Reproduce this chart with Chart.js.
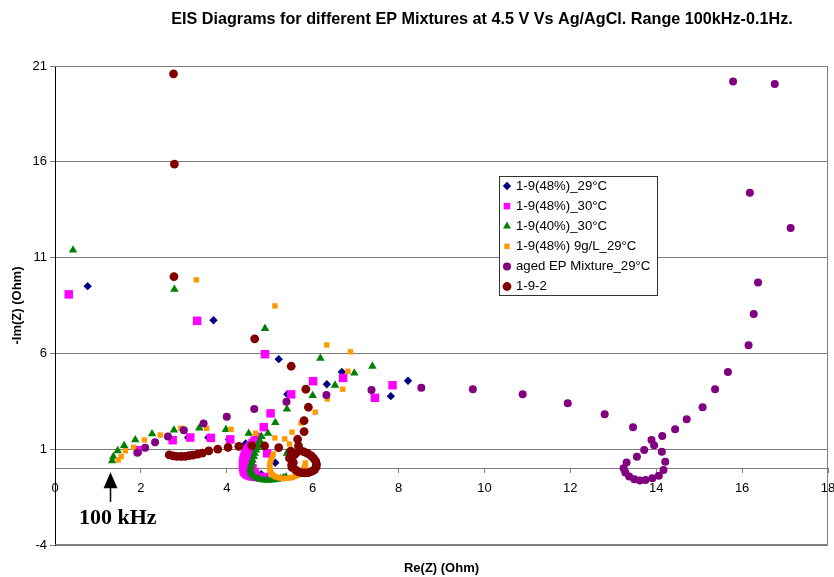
<!DOCTYPE html>
<html>
<head>
<meta charset="utf-8">
<script src="https://cdn.jsdelivr.net/npm/chart.js@4.4.0/dist/chart.umd.min.js"></script>
<style>
    html, body { margin: 0; padding: 0; background: #fff; overflow: hidden; }
    #wrap { width: 834px; height: 577px; }
</style>
</head>
<body>
<div id="wrap"><canvas id="eisChart" width="834" height="577"></canvas></div>
<script>
const xTicks = [0, 2, 4, 6, 8, 10, 12, 14, 16, 18];
const yTicks = [-4, 1, 6, 11, 16, 21];

const seriesLabels = [
    '1-9(48%)_29°C',
    '1-9(48%)_30°C',
    '1-9(40%)_30°C',
    '1-9(48%) 9g/L_29°C',
    'aged EP Mixture_29°C',
    '1-9-2'
];

// [Re(Z), -Im(Z)] pairs
const mix48at29 = [
    [0.76, 9.51], [3.69, 7.73], [5.21, 5.70], [6.68, 5.03], [8.22, 4.57], [6.33, 4.39],
    [7.82, 3.77], [5.41, 3.87], [3.10, 1.61], [3.57, 1.61], [4.05, 1.50], [4.44, 1.30],
    [4.62, 0.95], [4.55, 0.60], [4.52, 0.25], [4.55, -0.05], [4.65, -0.25], [4.80, -0.30],
    [5.13, 0.29]
];
const mix48at30 = [
    [0.32, 9.08], [3.31, 7.70], [4.89, 5.96], [6.01, 4.55], [6.71, 4.72], [7.86, 4.34],
    [7.45, 3.68], [5.50, 3.86], [5.02, 2.87], [4.86, 2.15], [4.71, 1.64], [4.08, 1.51],
    [3.63, 1.59], [3.15, 1.61], [2.74, 1.47], [1.93, 0.95], [4.65, 1.45], [4.60, 1.32],
    [4.55, 1.20], [4.51, 1.07], [4.47, 0.95], [4.44, 0.82], [4.42, 0.70], [4.40, 0.57],
    [4.39, 0.45], [4.38, 0.32], [4.38, 0.20], [4.38, 0.07], [4.39, -0.05], [4.40, -0.15],
    [4.42, -0.22], [4.45, -0.28], [4.48, -0.33], [4.52, -0.37], [4.56, -0.40], [4.61, -0.43],
    [4.66, -0.44], [4.71, -0.45], [4.77, -0.46], [4.83, -0.46], [4.88, -0.45], [4.94, 0.78],
    [4.47, 0.30], [4.50, 0.05], [4.52, 0.60], [4.56, 0.30], [4.60, 0.00], [4.65, -0.20],
    [4.55, 0.90]
];
const mix40at30 = [
    [0.42, 11.39], [2.78, 9.34], [4.89, 7.30], [6.18, 5.75], [7.39, 5.33], [6.97, 4.97],
    [6.52, 4.34], [6.00, 3.80], [5.40, 3.09], [5.13, 2.39], [4.96, 1.83], [4.51, 1.83],
    [3.98, 2.03], [3.36, 2.11], [2.77, 2.00], [2.26, 1.80], [1.87, 1.49], [1.61, 1.19],
    [1.46, 0.92], [1.36, 0.61], [1.33, 0.40], [4.81, 1.66], [4.77, 1.44], [4.74, 1.22],
    [4.71, 1.09], [4.68, 0.96], [4.65, 0.78], [4.63, 0.61], [4.60, 0.44], [4.58, 0.27],
    [4.56, 0.10], [4.55, -0.08], [4.56, -0.22], [4.59, -0.34], [4.64, -0.44], [4.71, -0.52],
    [4.78, -0.57], [4.86, -0.61], [4.94, -0.62], [5.02, -0.61], [5.10, -0.60], [5.17, -0.57],
    [5.25, -0.54], [5.32, -0.49], [5.38, -0.45], [5.40, 0.79]
];
const mix48with9gL = [
    [3.29, 9.84], [5.12, 8.48], [6.33, 6.44], [6.88, 6.08], [6.82, 5.07], [6.70, 4.13],
    [6.34, 3.62], [6.06, 2.93], [5.73, 2.37], [5.52, 1.89], [5.35, 1.54], [5.46, 1.27],
    [5.21, 1.10], [5.12, 1.59], [4.67, 1.83], [4.10, 2.04], [3.53, 2.09], [2.93, 2.09],
    [2.45, 1.74], [2.08, 1.48], [1.83, 1.10], [1.64, 0.92], [1.54, 0.61], [1.47, 0.44],
    [5.08, 0.75], [5.06, 0.60], [5.03, 0.45], [5.01, 0.30], [5.00, 0.15], [5.00, 0.00],
    [5.01, -0.12], [5.03, -0.23], [5.06, -0.32], [5.10, -0.40], [5.15, -0.45], [5.21, -0.49],
    [5.27, -0.52], [5.34, -0.53], [5.40, -0.52], [5.47, -0.50], [5.53, -0.47], [5.59, -0.42],
    [5.65, -0.36], [5.70, -0.28], [5.75, -0.18], [5.79, -0.06], [5.81, 0.05], [5.83, 0.17],
    [5.83, 0.28]
];
const agedMix29 = [
    [15.79, 20.19], [16.76, 20.06], [16.18, 14.38], [17.13, 12.55], [16.37, 9.70], [16.27, 8.06],
    [16.15, 6.43], [15.67, 5.03], [15.37, 4.13], [15.08, 3.19], [14.71, 2.56], [14.44, 2.04],
    [14.14, 1.69], [13.89, 1.48], [13.95, 1.21], [14.13, 0.87], [14.21, 0.35], [14.17, -0.08],
    [14.06, -0.38], [13.91, -0.52], [13.75, -0.61], [13.62, -0.64], [13.49, -0.57], [13.37, -0.43],
    [13.28, -0.22], [13.24, 0.01], [13.31, 0.30], [13.55, 0.61], [13.72, 0.96], [13.46, 2.15],
    [12.80, 2.83], [11.94, 3.40], [10.89, 3.87], [9.73, 4.13], [8.53, 4.21], [7.37, 4.09],
    [6.32, 3.83], [5.39, 3.48], [4.64, 3.10], [4.00, 2.70], [3.46, 2.34], [3.00, 1.99],
    [2.63, 1.66], [2.33, 1.36], [2.10, 1.07], [1.92, 0.82]
];
const mix192 = [
    [2.76, 20.59], [2.78, 15.88], [2.77, 10.01], [4.65, 6.76], [5.50, 5.33], [5.84, 4.13],
    [5.90, 3.19], [5.80, 2.49], [5.80, 1.92], [5.65, 1.52], [2.66, 0.70], [2.75, 0.65],
    [2.84, 0.63], [2.94, 0.62], [3.03, 0.63], [3.12, 0.66], [3.21, 0.69], [3.32, 0.74],
    [3.43, 0.80], [3.58, 0.91], [3.79, 1.00], [4.03, 1.09], [4.28, 1.15], [4.58, 1.19],
    [4.88, 1.17], [5.21, 1.08], [5.67, 1.17], [5.49, 0.90], [5.46, 0.53], [5.51, 0.18],
    [5.60, -0.08], [5.74, -0.22], [5.90, -0.22], [6.04, -0.08], [6.09, 0.22], [6.02, 0.53],
    [5.88, 0.78], [5.71, 0.94], [5.58, 0.72], [5.55, 0.30], [5.52, 0.05], [5.66, -0.17],
    [5.82, -0.24], [5.98, -0.16], [6.08, 0.06], [6.07, 0.38], [5.96, 0.66], [5.80, 0.86],
    [5.62, 0.82], [5.50, 0.70]
];

const seriesData = [mix48at29, mix48at30, mix40at30, mix48with9gL, agedMix29, mix192];

const seriesStyles = [
    { color: '#000080', pointStyle: 'rectRot', radius: 4.2 },
    { color: '#ff00ff', pointStyle: 'rect', radius: 6 },
    { color: '#008000', pointStyle: 'triangle', radius: 4.9 },
    { color: '#ff9900', pointStyle: 'rect', radius: 3.8 },
    { color: '#800080', pointStyle: 'circle', radius: 4 },
    { color: '#800000', pointStyle: 'circle', radius: 4.4 }
];

const sansFont = "'Liberation Sans', Arial, sans-serif";
Chart.defaults.font.family = sansFont;
Chart.defaults.color = '#000';

const datasets = seriesData.map((pairs, i) => ({
    label: seriesLabels[i],
    data: pairs.map(([x, y]) => ({ x, y })),
    pointStyle: seriesStyles[i].pointStyle,
    pointRadius: seriesStyles[i].radius,
    pointHoverRadius: seriesStyles[i].radius,
    pointBackgroundColor: seriesStyles[i].color,
    pointBorderColor: seriesStyles[i].color,
    pointBorderWidth: 0,
    // later series sit on top, like the original
    order: seriesData.length - i
}));

const drawMarker = (ctx, style, x, y) => {
    ctx.fillStyle = style.color;
    Chart.helpers.drawPoint(ctx, { pointStyle: style.pointStyle, radius: style.radius, borderWidth: 0, rotation: 0 }, x, y);
};

const decorPlugin = {
    id: 'decor',
    beforeDatasetsDraw(chart) {
        const { ctx, chartArea: a } = chart;
        // plot frame (top, right, bottom)
        ctx.save();
        ctx.strokeStyle = '#808080';
        ctx.lineWidth = 1;
        ctx.beginPath();
        ctx.moveTo(a.left, a.top + 0.5);
        ctx.lineTo(a.right - 0.5, a.top + 0.5);
        ctx.lineTo(a.right - 0.5, a.bottom - 0.5);
        ctx.lineTo(a.left, a.bottom - 0.5);
        ctx.stroke();
        ctx.restore();
    },
    afterDraw(chart) {
        const { ctx, scales } = chart;
        ctx.save();

        // title
        ctx.fillStyle = '#000';
        ctx.font = 'bold 16.2px ' + sansFont;
        ctx.textAlign = 'center';
        ctx.textBaseline = 'middle';
        ctx.fillText('EIS Diagrams for different EP Mixtures at 4.5 V Vs Ag/AgCl. Range 100kHz-0.1Hz.', 482, 20);

        // 100 kHz arrow
        const ax = Math.round(scales.x.getPixelForValue(1.27)) + 0.5;
        const tipY = scales.y.getPixelForValue(-0.2);
        const tailY = scales.y.getPixelForValue(-1.75);
        ctx.strokeStyle = '#000';
        ctx.lineWidth = 1.5;
        ctx.beginPath();
        ctx.moveTo(ax, tipY + 10);
        ctx.lineTo(ax, tailY);
        ctx.stroke();
        ctx.beginPath();
        ctx.moveTo(ax, tipY);
        ctx.lineTo(ax - 7, tipY + 16);
        ctx.lineTo(ax + 7, tipY + 16);
        ctx.closePath();
        ctx.fill();
        ctx.font = "bold 22px 'Liberation Serif', 'Times New Roman', serif";
        ctx.textAlign = 'center';
        ctx.fillText('100 kHz', scales.x.getPixelForValue(1.46), scales.y.getPixelForValue(-2.6));

        // legend box
        const box = { left: 499.5, top: 176.5, width: 158, height: 119 };
        ctx.fillStyle = '#fff';
        ctx.fillRect(box.left, box.top, box.width, box.height);
        ctx.strokeStyle = '#333';
        ctx.lineWidth = 1;
        ctx.strokeRect(box.left, box.top, box.width, box.height);
        ctx.font = '13.2px ' + sansFont;
        ctx.textAlign = 'left';
        ctx.textBaseline = 'middle';
        seriesLabels.forEach((label, i) => {
            const rowY = 186 + i * 20.1;
            const s = seriesStyles[i];
            drawMarker(ctx, { ...s, radius: Math.min(s.radius, 4.6) }, 507, rowY);
            ctx.fillStyle = '#000';
            ctx.fillText(label, 516, rowY);
        });

        ctx.restore();
    }
};

const createChart = (selector) => {
    const ctx = document.querySelector(selector).getContext('2d');
    return new Chart(ctx, {
        type: 'scatter',
        data: { datasets: datasets },
        options: {
            responsive: false,
            animation: false,
            devicePixelRatio: 1,
            layout: { padding: { top: 66, right: 2, bottom: 0, left: 0 } },
            plugins: {
                legend: { display: false },
                title: { display: false },
                tooltip: { enabled: false }
            },
            scales: {
                x: {
                    type: 'linear',
                    position: { y: 0 },
                    min: 0,
                    max: 18,
                    afterBuildTicks: (scale) => { scale.ticks = xTicks.map((v) => ({ value: v })); },
                    afterFit: (scale) => { scale.paddingLeft = 0; scale.paddingRight = 0; },
                    ticks: { font: { size: 13 }, color: '#000', padding: 8, maxRotation: 0 },
                    grid: { drawOnChartArea: false, drawTicks: true, tickLength: 4, color: '#808080' },
                    border: { color: '#808080', width: 1 }
                },
                x2: {
                    type: 'linear',
                    position: 'bottom',
                    min: 0,
                    max: 18,
                    afterFit: (scale) => { scale.height = 32; },
                    ticks: { display: false },
                    grid: { display: false },
                    border: { display: false },
                    title: { display: true, text: 'Re(Z) (Ohm)', font: { size: 13, weight: 'bold' }, padding: { top: 0, bottom: 1 } }
                },
                y: {
                    type: 'linear',
                    position: 'left',
                    min: -4,
                    max: 21,
                    afterBuildTicks: (scale) => { scale.ticks = yTicks.map((v) => ({ value: v })); },
                    afterFit: (scale) => { scale.width = 55; },
                    ticks: { font: { size: 13 }, color: '#000', padding: 3 },
                    grid: { color: '#7a7a7a', tickLength: 5 },
                    border: { color: '#000', width: 1 },
                    title: { display: true, text: '-Im(Z) (Ohm)', font: { size: 13, weight: 'bold' }, padding: { top: 10, bottom: 0 } }
                }
            }
        },
        plugins: [decorPlugin]
    });
};

createChart('#eisChart');
</script>
</body>
</html>
